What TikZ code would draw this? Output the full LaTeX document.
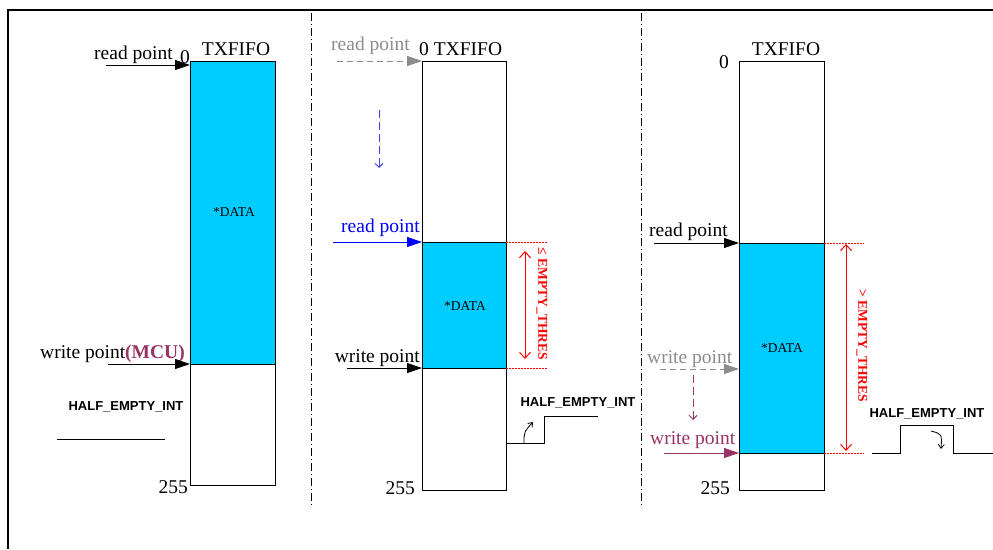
\documentclass[tikz,border=0pt]{standalone}
\usepackage{fontspec}
\setmainfont{Liberation Serif}
\setsansfont{Liberation Sans}
\usetikzlibrary{arrows.meta}
\definecolor{fifocyan}{HTML}{00CCFF}
\definecolor{mcupurple}{HTML}{993366}
\definecolor{ptgray}{HTML}{8C8C8C}
\begin{document}
\begin{tikzpicture}[x=1pt,y=-1pt,
  lbl/.style={font=\fontsize{19.5}{21}\selectfont, inner sep=0pt},
  datalbl/.style={font=\fontsize{13.5}{15}\selectfont, inner sep=0pt},
  intlbl/.style={font=\sffamily\bfseries\fontsize{13}{15}\selectfont, inner sep=0pt},
  thres/.style={font=\bfseries\fontsize{13.5}{15}\selectfont, text=red, rotate=-90, inner sep=0pt},
  ptr/.style={-{Triangle[length=15pt,width=10pt]}, line width=1pt},
  dptr/.style={ptr, dash pattern=on 6pt off 4pt},
  move/.style={-{Straight Barb[length=4pt,width=8pt]}, line width=1pt, dash pattern=on 8pt off 4pt},
  fifo/.style={draw, line width=0.9pt},
  sepline/.style={line width=0.9pt, dash pattern=on 8pt off 3pt on 1pt off 3pt},
  guide/.style={red, line width=0.9pt, dash pattern=on 1.5pt off 1.5pt},
  span/.style={red, line width=1pt, {Straight Barb[length=6pt,width=11pt]}-{Straight Barb[length=6pt,width=11pt]}},
  wave/.style={line width=1pt},
  flip/.style={-{Straight Barb[length=4pt,width=6pt]}, line width=0.8pt}]
\useasboundingbox (0,0) rectangle (993,549);
% frame
\draw[line width=2pt] (8,549) -- (8,10) -- (993,10);
% separators
\coordinate (s1a) at (311,13); \coordinate (s1b) at (311,508);
\coordinate (s2a) at (641,13); \coordinate (s2b) at (641,508);
\draw[sepline] (s1a) -- (s1b);
\draw[sepline] (s2a) -- (s2b);

% ---------- panel 1 ----------
\fill[fifocyan] (190,61) rectangle (275,364);
\draw[fifo] (190,61) rectangle (275,485);
\draw[line width=0.9pt] (190,364) -- (275,364);
\node[lbl] (t1) at (236,49) {TXFIFO};
\node[lbl, anchor=base west] (rp1) at (94,59) {read point};
\node[lbl, anchor=base west] (z1) at (180,63) {0};
\coordinate (rp1s) at (106,65); \coordinate (rp1e) at (190,65);
\draw[ptr] (rp1s) -- (rp1e);
\node[datalbl] (d1) at (234,212) {*DATA};
\node[lbl, anchor=base west] (wp1) at (40,358) {write point\textcolor{mcupurple}{\textbf{(MCU)}}};
\coordinate (wp1s) at (108,364); \coordinate (wp1e) at (190,364);
\draw[ptr] (wp1s) -- (wp1e);
\node[intlbl] (h1) at (126,407) {HALF\_EMPTY\_INT};
\coordinate (w1a) at (57,439); \coordinate (w1b) at (165,439);
\draw[wave] (w1a) -- (w1b);
\node[lbl, anchor=base east] (n1) at (188,493) {255};

% ---------- panel 2 ----------
\fill[fifocyan] (422,242) rectangle (506,368);
\draw[fifo] (422,61) rectangle (506,490);
\draw[line width=0.9pt] (422,242) -- (506,242);
\draw[line width=0.9pt] (422,368) -- (506,368);
\node[lbl, anchor=base west] (t2) at (419,55) {0 TXFIFO};
\node[lbl, anchor=base west, text=ptgray] (rp2o) at (331,50) {read point};
\coordinate (rp2os) at (337,61); \coordinate (rp2oe) at (422,61);
\draw[dptr, ptgray] (rp2os) -- (rp2oe);
\coordinate (m2a) at (379,110); \coordinate (m2b) at (379,168);
\draw[move, blue!75] (m2a) -- (m2b);
\node[lbl, anchor=base west, text=blue] (rp2) at (341,232) {read point};
\coordinate (rp2s) at (333,242); \coordinate (rp2e) at (422,242);
\draw[ptr, blue] (rp2s) -- (rp2e);
\node[datalbl] (d2) at (465,306) {*DATA};
\node[lbl, anchor=base east] (wp2) at (420,362) {write point};
\coordinate (wp2s) at (347,368); \coordinate (wp2e) at (422,368);
\draw[ptr] (wp2s) -- (wp2e);
\coordinate (g2a) at (506,242); \coordinate (g2b) at (548,242);
\coordinate (g2c) at (506,368); \coordinate (g2d) at (548,368);
\draw[guide] (g2a) -- (g2b);
\draw[guide] (g2c) -- (g2d);
\coordinate (sp2a) at (525,251); \coordinate (sp2b) at (525,359);
\draw[span] (sp2a) -- (sp2b);
\node[thres] (th2) at (542,304) {≤ EMPTY\_THRES};
\node[intlbl] (h2) at (578,403) {HALF\_EMPTY\_INT};
\draw[wave] (506,443) -- (544,443) -- (544,416) -- (598,416);
\coordinate (f2a) at (524,443); \coordinate (f2b) at (533,422);
\draw[flip] (f2a) .. controls (524,432) .. (f2b);
\node[lbl, anchor=base east] (n2) at (415,494) {255};

% ---------- panel 3 ----------
\fill[fifocyan] (739,243) rectangle (824,453);
\draw[fifo] (739,61) rectangle (824,490);
\draw[line width=0.9pt] (739,243) -- (824,243);
\draw[line width=0.9pt] (739,453) -- (824,453);
\node[lbl] (t3) at (786,49) {TXFIFO};
\node[lbl, anchor=base west] (z3) at (719,68) {0};
\node[lbl, anchor=base west] (rp3) at (649,236) {read point};
\coordinate (rp3s) at (654,243); \coordinate (rp3e) at (739,243);
\draw[ptr] (rp3s) -- (rp3e);
\node[datalbl] (d3) at (782,348) {*DATA};
\coordinate (g3a) at (824,243); \coordinate (g3b) at (864,243);
\coordinate (g3c) at (824,453); \coordinate (g3d) at (864,453);
\draw[guide] (g3a) -- (g3b);
\draw[guide] (g3c) -- (g3d);
\coordinate (sp3a) at (846,244); \coordinate (sp3b) at (846,451);
\draw[span] (sp3a) -- (sp3b);
\node[thres] (th3) at (862,346) {> EMPTY\_THRES};
\node[lbl, anchor=base west, text=ptgray] (wp3o) at (647,363) {write point};
\coordinate (wp3os) at (660,369); \coordinate (wp3oe) at (739,369);
\draw[dptr, ptgray] (wp3os) -- (wp3oe);
\coordinate (m3a) at (693,375); \coordinate (m3b) at (693,420);
\draw[move, mcupurple] (m3a) -- (m3b);
\node[lbl, anchor=base west, text=mcupurple] (wp3) at (650,444) {write point};
\coordinate (wp3s) at (664,453); \coordinate (wp3e) at (739,453);
\draw[ptr, mcupurple] (wp3s) -- (wp3e);
\node[intlbl] (h3) at (927,414) {HALF\_EMPTY\_INT};
\draw[wave] (872,453) -- (900,453) -- (900,425) -- (953,425) -- (953,453) -- (993,453);
\coordinate (f3a) at (931,431); \coordinate (f3b) at (941,449);
\draw[flip] (f3a) .. controls (942,434) .. (f3b);
\node[lbl, anchor=base east] (n3) at (730,494) {255};
\end{tikzpicture}
\end{document}
